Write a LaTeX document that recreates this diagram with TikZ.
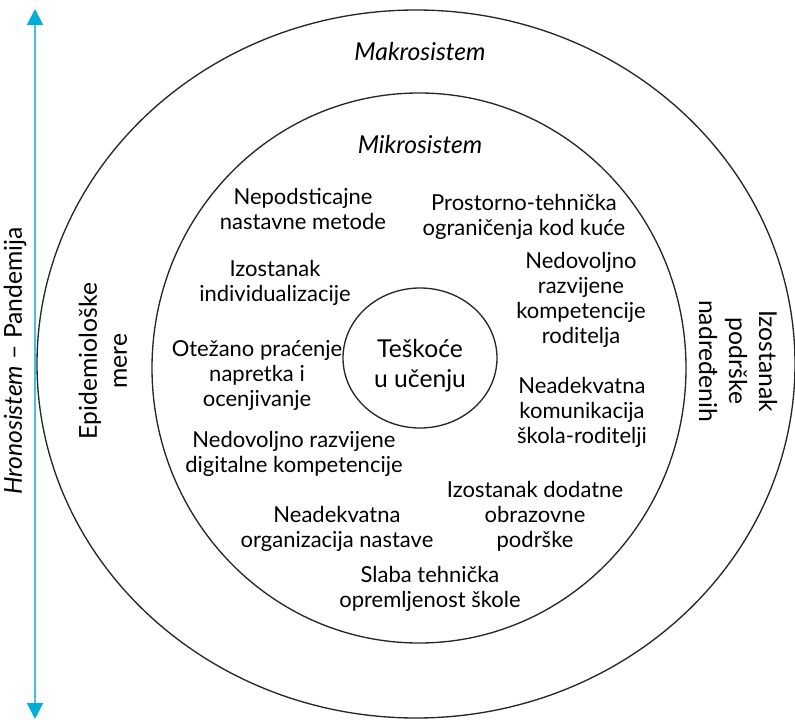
\documentclass[tikz,border=0pt]{standalone}
\usepackage{fontspec}
\setmainfont{Lato}
\usepackage{tikz}
\usetikzlibrary{positioning}
\usetikzlibrary{arrows.meta}
\definecolor{hronoblue}{RGB}{0,174,214}

\tikzset{
	ring/.style={draw=black!85, line width=1pt},
	lbl/.style={align=center, inner sep=0pt, font=\fontsize{16.5}{18.75}\selectfont},
	side/.style={lbl, font=\fontsize{18.5}{22.5}\selectfont},
}

\begin{document}
\begin{tikzpicture}[x=0.75pt,y=-0.75pt]
	\useasboundingbox (0,0) rectangle (795,720);
	
	\draw [ring] (416,364) ellipse [x radius=379, y radius=354];
	\draw [ring] (419,368) ellipse [x radius=267, y radius=275];
	\draw [ring] (420,358) ellipse [x radius=77, y radius=70];
	\node [side] at (420,366) (center) {Teškoće\\u učenju};
	
	\node [side] at (420,52) (makro) {\itshape Makrosistem};
	\node [side] at (420,145) (mikro) {\itshape Mikrosistem};
	
	\node [lbl] at (303,209) (metode) {Nepodsticajne\\nastavne metode}; \node [lbl] at (524,217) (prostor) {Prostorno-tehnička\\ograničenja kod kuće};
	\node [lbl] at (275,283) (indiv) {Izostanak\\individualizacije}; \node [lbl] at (581,300) (roditelji) {Nedovoljno\\razvijene\\kompetencije\\roditelja};
	\node [lbl] at (257,375) (ocene) {Otežano praćenje\\napretka i\\ocenjivanje}; \node [lbl] at (582,412) (komunik) {Neadekvatna\\komunikacija\\škola-roditelji};
	\node [lbl] at (294,454) (digital) {Nedovoljno razvijene\\digitalne kompetencije}; \node [lbl] at (535,516) (podrska) {Izostanak dodatne\\obrazovne\\podrške};
	\node [lbl] at (337,529) (organiz) {Neadekvatna\\organizacija nastave}; \node [lbl] at (430,589) (oprema) {Slaba tehnička\\opremljenost škole};
	
	\node [side, rotate=90] at (103,361) (epidem) {Epidemiološke\\mere};
	\node [side, rotate=-90] at (738,361) (nadredjeni) {Izostanak\\podrške\\nadređenih};
	
	\coordinate (htop) at (35,9); \coordinate (hbot) at (35,719);
	\draw [hronoblue!75, line width=1.5pt, {Triangle[width=12pt,length=12pt,color=hronoblue]}-{Triangle[width=12pt,length=12pt,color=hronoblue]}] (htop) -- (hbot);
	\node [side, rotate=90] at (15,361) (hrono) {\itshape Hronosistem\/\upshape{} – Pandemija};
	
\end{tikzpicture}
\end{document}
